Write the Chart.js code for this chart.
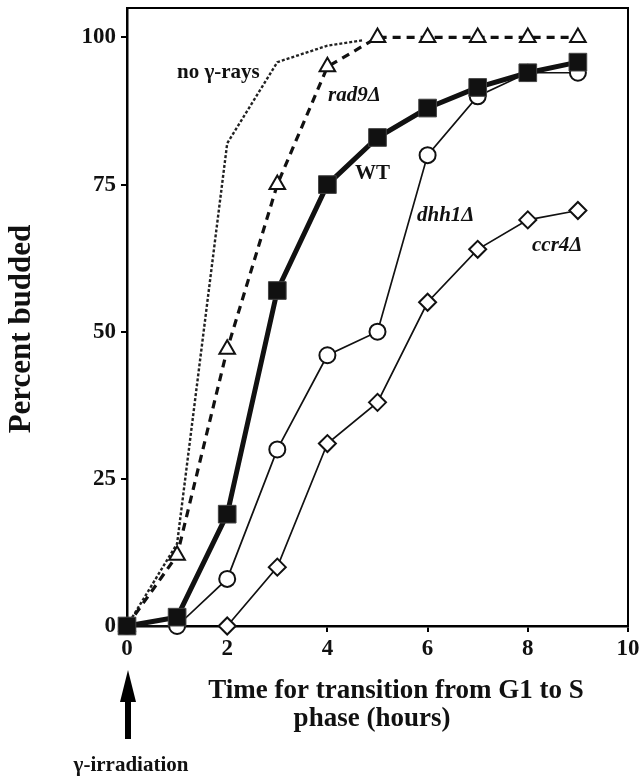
<!DOCTYPE html>
<html lang="en">
<head>
    <meta charset="UTF-8" />
    <title>Percent budded after gamma-irradiation</title>
    <style>
        * { margin: 0; padding: 0; box-sizing: border-box; }
        body { background: #fff; width: 641px; height: 779px; overflow: hidden; }
        canvas { display: block; }
    </style>
</head>
<body>
    <canvas id="buddedChart" width="641" height="779"></canvas>
    <script src="https://cdn.jsdelivr.net/npm/chart.js"></script>
    <script>
        // hours after irradiation
        const hours = [0, 1, 2, 3, 4, 5, 6, 7, 8, 9];
        const noRaysHours = [0, 1, 2, 3, 4, 4.7];
        const ccr4Hours = [2, 3, 4, 5, 6, 7, 8, 9];

        // percent budded
        const noRays = [0, 14, 82, 95.8, 98.6, 99.5];
        const rad9 = [0, 12, 47, 75, 95, 100, 100, 100, 100, 100];
        const wt = [0, 1.5, 19, 57, 75, 83, 88, 91.5, 94, 95.8];
        const dhh1 = [0, 0, 8, 30, 46, 50, 80, 90, 94, 94];
        const ccr4 = [0, 10, 31, 38, 55, 64, 69, 70.6];

        const xTicks = [0, 2, 4, 6, 8, 10];
        const yTicks = [0, 25, 50, 75, 100];

        const FONT = "'Liberation Serif', 'DejaVu Serif', serif";

        function pts(xs, ys) {
            return xs.map((x, i) => ({ x: x, y: ys[i] }));
        }

        // curve labels + axis titles + frame + arrow
        const decorations = {
            id: 'decorations',
            afterDraw(chart) {
                const ctx = chart.ctx;
                const a = chart.chartArea;
                ctx.save();
                ctx.strokeStyle = '#000';
                ctx.lineWidth = 2;
                ctx.beginPath();
                ctx.moveTo(a.left, a.top);
                ctx.lineTo(a.right, a.top);
                ctx.lineTo(a.right, a.bottom);
                ctx.stroke();

                ctx.fillStyle = '#111';
                ctx.textBaseline = 'middle';
                ctx.textAlign = 'left';
                ctx.font = 'bold 21px ' + FONT;
                ctx.fillText('no \u03b3-rays', 177, 73);
                ctx.fillText('WT', 355, 174);
                ctx.font = 'italic bold 21px ' + FONT;
                ctx.fillText('rad9\u0394', 328, 96);
                ctx.fillText('dhh1\u0394', 417, 216);
                ctx.fillText('ccr4\u0394', 532, 246);

                // axis titles
                ctx.font = 'bold 27px ' + FONT;
                ctx.textAlign = 'center';
                ctx.fillText('Time for transition from G1 to S', 396, 691);
                ctx.fillText('phase (hours)', 372, 719);

                ctx.save();
                ctx.translate(22, 329);
                ctx.rotate(-Math.PI / 2);
                ctx.font = 'bold 31px ' + FONT;
                ctx.fillText('Percent budded', 0, 0);
                ctx.restore();

                // irradiation arrow
                ctx.fillStyle = '#000';
                ctx.fillRect(125, 698, 6, 41);
                ctx.beginPath();
                ctx.moveTo(128, 670);
                ctx.lineTo(120, 702);
                ctx.lineTo(136, 702);
                ctx.closePath();
                ctx.fill();
                ctx.font = 'bold 21px ' + FONT;
                ctx.fillStyle = '#111';
                ctx.fillText('\u03b3-irradiation', 131, 766);
                ctx.restore();
            }
        };

        const ctx = document.getElementById('buddedChart').getContext('2d');
        const chart = new Chart(ctx, {
            type: 'line',
            data: {
                datasets: [
                    {
                        label: 'no gamma-rays',
                        data: pts(noRaysHours, noRays),
                        borderColor: '#222',
                        borderWidth: 2.4,
                        borderDash: [3, 2],
                        pointRadius: 0,
                        order: 4
                    },
                    {
                        label: 'rad9',
                        data: pts(hours, rad9),
                        borderColor: '#111',
                        borderWidth: 3.2,
                        borderDash: [8, 6],
                        pointStyle: 'triangle',
                        pointRadius: 9,
                        pointBorderWidth: 2,
                        pointBackgroundColor: '#fff',
                        pointBorderColor: '#111',
                        order: 3
                    },
                    {
                        label: 'ccr4',
                        data: pts(ccr4Hours, ccr4),
                        borderColor: '#111',
                        borderWidth: 1.7,
                        pointStyle: 'rectRot',
                        pointRadius: 8.5,
                        pointBorderWidth: 2,
                        pointBackgroundColor: '#fff',
                        pointBorderColor: '#111',
                        order: 2
                    },
                    {
                        label: 'dhh1',
                        data: pts(hours, dhh1),
                        borderColor: '#111',
                        borderWidth: 1.7,
                        pointStyle: 'circle',
                        pointRadius: 8,
                        pointBorderWidth: 2,
                        pointBackgroundColor: '#fff',
                        pointBorderColor: '#111',
                        order: 1
                    },
                    {
                        label: 'WT',
                        data: pts(hours, wt),
                        borderColor: '#111',
                        borderWidth: 5,
                        pointStyle: 'rect',
                        pointRadius: 12.5,
                        pointBorderWidth: 1,
                        pointBackgroundColor: '#111',
                        pointBorderColor: '#444',
                        order: 0
                    }
                ]
            },
            options: {
                responsive: false,
                animation: false,
                tension: 0,
                clip: false,
                layout: { autoPadding: false, padding: { left: 0, right: 13, top: 8, bottom: 0 } },
                plugins: {
                    legend: { display: false },
                    tooltip: { enabled: false }
                },
                scales: {
                    x: {
                        type: 'linear',
                        min: 0,
                        max: 10,
                        afterBuildTicks(scale) { scale.ticks = xTicks.map(v => ({ value: v })); },
                        afterFit(scale) {
                            scale.height = 153;
                            scale.paddingLeft = 0;
                            scale.paddingRight = 0;
                        },
                        border: { display: true, color: '#000', width: 2.5 },
                        grid: { drawOnChartArea: false, drawTicks: true, tickLength: 6, color: '#000', lineWidth: 2 },
                        ticks: {
                            color: '#111',
                            padding: 3,
                            maxRotation: 0,
                            font: { family: FONT, size: 23, weight: 'bold' }
                        }
                    },
                    y: {
                        type: 'linear',
                        min: 0,
                        max: 105,
                        afterBuildTicks(scale) { scale.ticks = yTicks.map(v => ({ value: v })); },
                        afterFit(scale) {
                            scale.width = 127;
                            scale.paddingTop = 0;
                            scale.paddingBottom = 0;
                        },
                        border: { display: true, color: '#000', width: 2.5 },
                        grid: { drawOnChartArea: false, drawTicks: true, tickLength: 6, color: '#000', lineWidth: 2 },
                        ticks: {
                            color: '#111',
                            padding: 5,
                            font: { family: FONT, size: 23, weight: 'bold' }
                        }
                    }
                }
            },
            plugins: [decorations]
        });
    </script>
</body>
</html>
